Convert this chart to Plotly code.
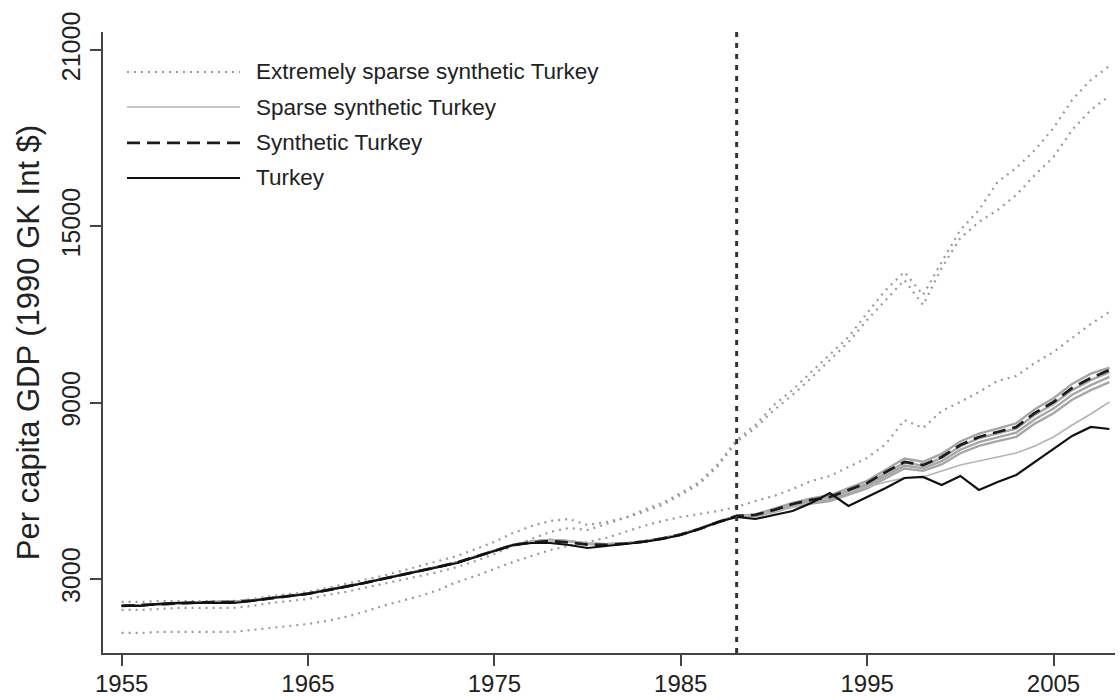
import plotly.graph_objects as go

years = list(range(1955, 2009))
x_ticks = [1955, 1965, 1975, 1985, 1995, 2005]
y_ticks = [3000, 9000, 15000, 21000]
treatment_year = 1988

turkey = [2081, 2081, 2149, 2183, 2183, 2183, 2183, 2251, 2353, 2421,
          2489, 2626, 2728, 2864, 3000, 3136, 3272, 3408, 3545, 3749,
          3953, 4157, 4225, 4225, 4157, 4055, 4123, 4191, 4259, 4362,
          4498, 4702, 4940, 5110, 5042, 5179, 5315, 5587, 5927, 5485,
          5791, 6098, 6438, 6472, 6200, 6506, 6030, 6302, 6540, 6983,
          7425, 7868, 8174, 8106]

synthetic = [2081, 2110, 2150, 2180, 2200, 2210, 2220, 2260, 2340, 2420,
             2500, 2610, 2730, 2860, 3000, 3130, 3270, 3410, 3560, 3760,
             3960, 4150, 4250, 4290, 4240, 4170, 4160, 4200, 4270, 4370,
             4510, 4700, 4930,
             5145, 5179, 5349, 5553, 5689, 5791, 6030, 6268, 6642, 6983,
             6881, 7153, 7561, 7834, 8004, 8174, 8651, 9025, 9502, 9842, 10114]

# sparse synthetic Turkeys: common pre-1988 path, separate post-1988 paths
sparse_pre = [2085, 2115, 2150, 2180, 2200, 2215, 2225, 2265, 2345, 2425,
              2505, 2615, 2735, 2865, 3005, 3135, 3275, 3415, 3565, 3765,
              3965, 4160, 4270, 4330, 4290, 4200, 4180, 4210, 4280, 4380,
              4520, 4710, 4940]
sparse_post_1 = [5150, 5195, 5380, 5590, 5740, 5850, 6090, 6340, 6720, 7100,
                 6990, 7260, 7680, 7950, 8120, 8300, 8780, 9150, 9640, 9990, 10190]
sparse_post_2 = [5145, 5175, 5340, 5540, 5670, 5770, 6000, 6240, 6610, 6960,
                 6860, 7120, 7520, 7790, 7960, 8120, 8590, 8960, 9430, 9770, 10040]
sparse_post_3 = [5135, 5155, 5310, 5500, 5620, 5710, 5930, 6160, 6520, 6860,
                 6770, 7010, 7400, 7660, 7820, 7980, 8440, 8800, 9270, 9600, 9880]
sparse_post_4 = [5125, 5135, 5280, 5460, 5570, 5650, 5860, 6080, 6430, 6760,
                 6680, 6900, 7280, 7530, 7690, 7840, 8290, 8640, 9100, 9430, 9700]
sparse_post_5 = [5145, 5179, 5281, 5451, 5621, 5757, 5961, 6132, 6302, 6438,
                 6472, 6676, 6881, 7017, 7153, 7289, 7527, 7834, 8242, 8617, 9025]

extreme_1 = [2217, 2217, 2251, 2251, 2251, 2251, 2251, 2319, 2421, 2489,
             2557, 2694, 2830, 2966, 3102, 3272, 3443, 3613, 3783, 4021,
             4259, 4566, 4804, 4974, 5042, 4838, 4940, 5076, 5349, 5587,
             5927, 6302, 6915,
             7732, 8242, 8923, 9434, 10046, 10625, 11238, 12055, 12838, 13450,
             12667, 13791, 14880, 15561, 16514, 16990, 17603, 18352, 19305, 19986, 20463]
extreme_2 = [1945, 1945, 1979, 2013, 2013, 2013, 2013, 2081, 2183, 2251,
             2319, 2455, 2557, 2694, 2830, 2966, 3102, 3238, 3408, 3613,
             3851, 4123, 4362, 4600, 4736, 4668, 4872, 5076, 5281, 5519,
             5859, 6234, 6847,
             7664, 8140, 8753, 9263, 9842, 10455, 11067, 11816, 12497, 13178,
             12327, 13587, 14608, 15152, 15561, 16071, 16752, 17365, 18284, 18965, 19441]
extreme_3 = [1162, 1162, 1196, 1196, 1196, 1196, 1196, 1264, 1332, 1400,
             1468, 1570, 1706, 1877, 2081, 2251, 2421, 2626, 2898, 3102,
             3340, 3579, 3783, 3987, 4123, 4259, 4396, 4600, 4804, 4974,
             5110, 5213, 5315,
             5451, 5655, 5825, 6064, 6336, 6506, 6812, 7119, 7596, 8412,
             8140, 8719, 9025, 9365, 9740, 9910, 10353, 10727, 11204, 11680, 12089]

legend_labels = ["Extremely sparse synthetic Turkey", "Sparse synthetic Turkey",
                 "Synthetic Turkey", "Turkey"]

FONT = "Liberation Sans, Arial, sans-serif"
EXT_STYLE = dict(color="#9a9a9a", width=2.2, dash="2px,5px")
SPARSE_BAND_STYLE = dict(color="#a6a6a6", width=2.4)
SPARSE_STYLE = dict(color="#b4b4b4", width=1.6)
SYN_STYLE = dict(color="#1c1c1c", width=2.8, dash="13px,7px")
TUR_STYLE = dict(color="#111111", width=2.2)

fig = go.Figure()
for ys in [extreme_1, extreme_2, extreme_3]:
    fig.add_trace(go.Scatter(x=years, y=ys, mode="lines", line=EXT_STYLE,
                             showlegend=False, hoverinfo="skip"))
for post in [sparse_post_1, sparse_post_2, sparse_post_3, sparse_post_4]:
    fig.add_trace(go.Scatter(x=years, y=sparse_pre + post, mode="lines",
                             line=SPARSE_BAND_STYLE, showlegend=False, hoverinfo="skip"))
fig.add_trace(go.Scatter(x=years, y=sparse_pre + sparse_post_5, mode="lines",
                         line=SPARSE_STYLE, showlegend=False, hoverinfo="skip"))
fig.add_trace(go.Scatter(x=years, y=synthetic, mode="lines", line=SYN_STYLE,
                         showlegend=False))
fig.add_trace(go.Scatter(x=years, y=turkey, mode="lines", line=TUR_STYLE,
                         showlegend=False))

# vertical treatment line
fig.add_shape(type="line", xref="x", yref="paper", x0=treatment_year, x1=treatment_year,
              y0=0, y1=1, line=dict(color="#333333", width=3, dash="5px,6px"))

# manual legend (long line samples like the original)
leg_x0, leg_x1, leg_tx = 0.0237, 0.1354, 0.1490
leg_rows = [0.9356, 0.8792, 0.8213, 0.7649]
leg_styles = [EXT_STYLE, SPARSE_STYLE, SYN_STYLE, TUR_STYLE]
for lab, yy, st in zip(legend_labels, leg_rows, leg_styles):
    fig.add_shape(type="line", xref="paper", yref="paper", x0=leg_x0, x1=leg_x1,
                  y0=yy, y1=yy, line=st)
    fig.add_annotation(xref="paper", yref="paper", x=leg_tx, y=yy, text=lab,
                       showarrow=False, xanchor="left", yanchor="middle",
                       font=dict(family=FONT, size=22.5, color="#222222"))

fig.update_layout(
    width=1120, height=700,
    margin=dict(l=103, r=5, t=32, b=47),
    paper_bgcolor="white", plot_bgcolor="white",
    showlegend=False,
    font=dict(family=FONT, color="#222222"),
)
fig.update_xaxes(
    range=[1954, 2008.3], tickmode="array", tickvals=x_ticks,
    ticktext=[str(v) for v in x_ticks], automargin=False,
    showgrid=False, zeroline=False, showline=True, linecolor="#444444", linewidth=1.5,
    ticks="outside", ticklen=11, tickwidth=1.5, tickcolor="#444444",
    ticklabelstandoff=-3,
    tickfont=dict(family=FONT, size=24, color="#222222"),
)
fig.update_yaxes(
    range=[480, 21620], tickmode="array", tickvals=y_ticks,
    ticktext=[str(v) for v in y_ticks], tickangle=-90, automargin=False,
    showgrid=False, zeroline=False, showline=True, linecolor="#444444", linewidth=1.5,
    ticks="outside", ticklen=11, tickwidth=1.5, tickcolor="#444444",
    tickfont=dict(family=FONT, size=25, color="#222222"),
    title=dict(text="Per capita GDP (1990 GK Int $)",
               font=dict(family=FONT, size=31, color="#222222"),
               standoff=8),
)

fig.write_html("out.html", config={"displayModeBar": False},
               post_script="document.body.style.margin='0';document.body.style.overflow='hidden';")
